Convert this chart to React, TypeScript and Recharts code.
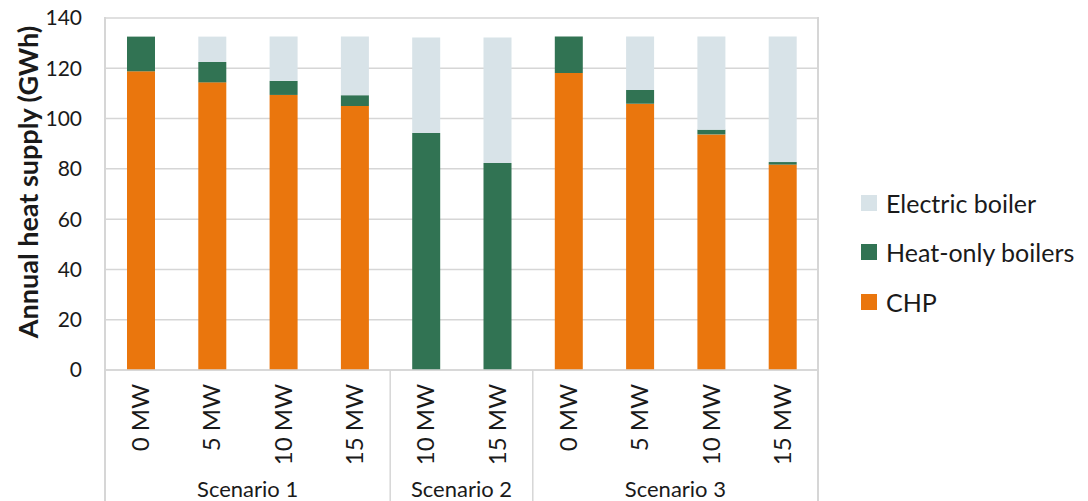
import { BarChart, Bar, XAxis, YAxis, CartesianGrid, Label } from 'recharts';

// Annual heat supply per case (GWh)
const caseLabels = ['0 MW', '5 MW', '10 MW', '15 MW', '10 MW', '15 MW', '0 MW', '5 MW', '10 MW', '15 MW'];
const scenarioNames = ['Scenario 1', 'Scenario 2', 'Scenario 3'];
const scenarioSizes = [4, 2, 4];
const chp = [118.8, 114.4, 109.4, 105.0, 0, 0, 118.1, 105.9, 93.7, 81.7];
const heatOnly = [13.8, 8.1, 5.6, 4.3, 94.3, 82.3, 14.5, 5.5, 1.9, 1.0];
const electric = [0, 10.1, 17.6, 23.3, 37.9, 49.9, 0, 21.2, 37.0, 49.9];
const yTicks = [0, 20, 40, 60, 80, 100, 120, 140];

const COLORS = {
  chp: '#ea760d',
  heatOnly: '#317353',
  electric: '#d8e3e8',
};

const W = 1088;
const H = 501;
const M = { top: 18, right: 270, left: 0, bottom: 0 };
const X_H = 131;
const Y_W = 105;
const PLOT_W = W - M.left - M.right - Y_W;
const BAND = PLOT_W / caseLabels.length;
const AXIS_Y = H - X_H;
const FONT = 'Lato, "Open Sans", sans-serif';
const TEXT = '#1a1a1a';
const LINE = '#d6d6d6';

const data = caseLabels.map((label, i) => ({
  key: `${i}-${label}`,
  label,
  chp: chp[i],
  heatOnly: heatOnly[i],
  electric: electric[i],
}));

// first index of each scenario group
const groupStarts: number[] = [];
scenarioSizes.reduce((acc, n) => {
  groupStarts.push(acc);
  return acc + n;
}, 0);

const CaseTick = (props: any) => {
  const { x, payload } = props;
  const i: number = payload.index;
  const left = x - BAND / 2;
  const right = x + BAND / 2;
  const g = groupStarts.indexOf(i);
  const parts = [];

  parts.push(
    <text
      key="t"
      transform={`translate(${x + 8.5},${AXIS_Y + 14}) rotate(-90)`}
      textAnchor="end"
      fontSize={24}
      fontFamily={FONT}
      fill={TEXT}
    >
      {caseLabels[i]}
    </text>
  );

  if (i === 0) {
    parts.push(<line key="l0" x1={left} x2={left} y1={M.top - 1} y2={H} stroke={LINE} strokeWidth={2} />);
  } else if (g >= 0) {
    parts.push(<line key="ls" x1={left} x2={left} y1={AXIS_Y} y2={H} stroke={LINE} strokeWidth={1.5} />);
  }
  if (i === caseLabels.length - 1) {
    parts.push(<line key="lr" x1={right} x2={right} y1={M.top - 1} y2={H} stroke={LINE} strokeWidth={2} />);
  }
  if (g >= 0) {
    const cx = left + (scenarioSizes[g] * BAND) / 2;
    parts.push(
      <text key="g" x={cx} y={H - 4} textAnchor="middle" fontSize={22} fontFamily={FONT} fill={TEXT}>
        {scenarioNames[g]}
      </text>
    );
  }
  return <g>{parts}</g>;
};

const YTitle = (props: any) => {
  const vb = props.viewBox;
  const cy = vb.y + vb.height / 2 - 12;
  return (
    <text
      transform={`translate(27,${cy}) rotate(-90)`}
      textAnchor="middle"
      dominantBaseline="central"
      fontSize={27}
      fontWeight={700}
      fontFamily={FONT}
      fill={TEXT}
    >
      Annual heat supply (GWh)
    </text>
  );
};

const legendItems = [
  { name: 'Electric boiler', color: COLORS.electric },
  { name: 'Heat-only boilers', color: COLORS.heatOnly },
  { name: 'CHP', color: COLORS.chp },
];

export default function App() {
  return (
    <div style={{ position: 'absolute', left: 0, top: 0, width: W, height: H, background: '#fff' }}>
      <BarChart width={W} height={H} data={data} margin={M} barSize={28}>
        <CartesianGrid vertical={false} stroke={LINE} strokeWidth={1.5} />
        <XAxis
          dataKey="key"
          interval={0}
          height={X_H}
          tick={<CaseTick />}
          tickLine={false}
          axisLine={{ stroke: LINE, strokeWidth: 1.5 }}
        />
        <YAxis
          width={Y_W}
          domain={[0, 140]}
          ticks={yTicks}
          tickLine={false}
          axisLine={false}
          tickSize={0}
          tickMargin={23}
          tick={{ fontSize: 21, fontFamily: FONT, fill: TEXT }}
        >
          <Label content={<YTitle />} />
        </YAxis>
        <Bar dataKey="chp" stackId="s" fill={COLORS.chp} isAnimationActive={false} />
        <Bar dataKey="heatOnly" stackId="s" fill={COLORS.heatOnly} isAnimationActive={false} />
        <Bar dataKey="electric" stackId="s" fill={COLORS.electric} isAnimationActive={false} />
      </BarChart>
      <div style={{ position: 'absolute', left: 861, top: 178, fontFamily: FONT, fontSize: 25, color: TEXT }}>
        {legendItems.map((it) => (
          <div key={it.name} style={{ display: 'flex', alignItems: 'center', height: 49.5 }}>
            <span style={{ width: 16, height: 16, background: it.color, marginRight: 9, display: 'inline-block' }} />
            <span>{it.name}</span>
          </div>
        ))}
      </div>
    </div>
  );
}
